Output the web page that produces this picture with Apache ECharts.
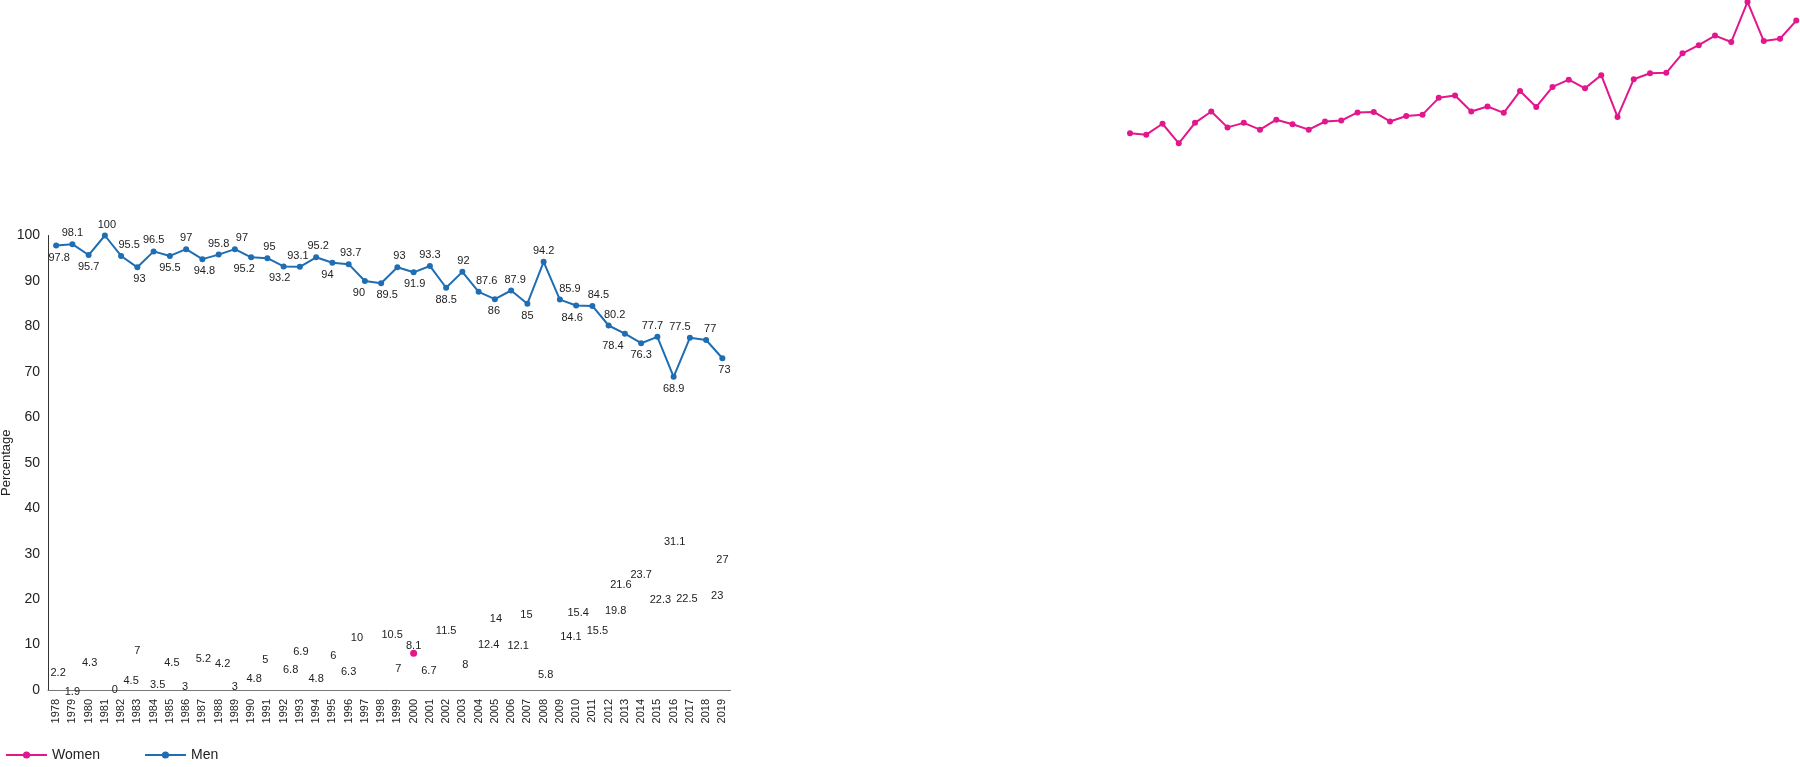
<!DOCTYPE html>
<html>
<head>
<meta charset="utf-8">
<title>Percentage by sex</title>
<script src="https://cdn.jsdelivr.net/npm/echarts@6/dist/echarts.min.js"></script>
<style>
    html, body { margin: 0; padding: 0; background: #fff; }
    #chart { width: 1800px; height: 767px; }
</style>
</head>
<body>
<div id="chart"></div>
<script>
var years = ['1978', '1979', '1980', '1981', '1982', '1983', '1984', '1985', '1986', '1987',
    '1988', '1989', '1990', '1991', '1992', '1993', '1994', '1995', '1996', '1997',
    '1998', '1999', '2000', '2001', '2002', '2003', '2004', '2005', '2006', '2007',
    '2008', '2009', '2010', '2011', '2012', '2013', '2014', '2015', '2016', '2017',
    '2018', '2019'];
var women = [2.2, 1.9, 4.3, 0, 4.5, 7, 3.5, 4.5, 3, 5.2,
    4.2, 3, 4.8, 5, 6.8, 6.9, 4.8, 6, 6.3, 10,
    10.5, 7, 8.1, 6.7, 11.5, 8, 12.4, 14, 12.1, 15,
    5.8, 14.1, 15.4, 15.5, 19.8, 21.6, 23.7, 22.3, 31.1, 22.5,
    23, 27];
var men = [97.8, 98.1, 95.7, 100, 95.5, 93, 96.5, 95.5, 97, 94.8,
    95.8, 97, 95.2, 95, 93.2, 93.1, 95.2, 94, 93.7, 90,
    89.5, 93, 91.9, 93.3, 88.5, 92, 87.6, 86, 87.9, 85,
    94.2, 85.9, 84.6, 84.5, 80.2, 78.4, 76.3, 77.7, 68.9, 77.5,
    77, 73];

// label placement: t = above, b = below, c = on the point
var menLabelPos = ['b', 't', 'b', 't', 't', 'b', 't', 'b', 't', 'b',
    't', 't', 'b', 't', 'b', 't', 't', 'b', 't', 'b',
    'b', 't', 'b', 't', 'b', 't', 't', 'b', 't', 'b',
    't', 't', 'b', 't', 't', 'b', 'b', 't', 'b', 't',
    't', 'b'];
var menLabelDx = [3, 0, 0, 2, 8, 2, 0, 0, 0, 2,
    0, 7, -7, 2, -4, -2, 2, -5, 2, -6,
    6, 2, 1, 0, 0, 1, 8, -1, 4, 0,
    0, 10, -4, 6, 6, -12, 0, -5, 0, -10,
    4, 2];
var womenLabelPos = ['t', 'b', 't', 'c', 'b', 't', 'b', 't', 'b', 't',
    't', 'b', 'b', 't', 'b', 't', 'b', 't', 'b', 't',
    't', 'b', 't', 'b', 't', 'b', 'b', 't', 'b', 't',
    'b', 'b', 't', 'b', 'b', 't', 't', 'b', 't', 'b',
    'b', 't'];
var womenLabelDx = [2, 0, 1, 10, 10, 0, 4, 2, -1, 1,
    4, 0, 3, -2, 7, 1, 0, 1, 0, -8,
    11, 1, 0, -1, 0, 3, 10, 1, 7, -1,
    2, 11, 2, 5, 7, -4, 0, 3, 1, -3,
    11, 0];
var womenDotYear = '2000';

var PINK = '#e3168c';
var BLUE = '#1f6db3';
var FONT = '"Liberation Sans", Arial, sans-serif';

function withLabels(values, pos, dx, up, down) {
    return values.map(function (v, i) {
        var dy = pos[i] === 't' ? up : (pos[i] === 'b' ? down : 0);
        return { value: v, label: { offset: [dx[i], dy] } };
    });
}

var chart = echarts.init(document.getElementById('chart'));

var gridW = 682.5, gridH = 454.5;

var option = {
    animation: false,
    textStyle: { fontFamily: FONT },
    legend: {
        data: ['Women', 'Men'],
        left: 5,
        top: 748,
        padding: 0,
        itemWidth: 41,
        itemHeight: 9,
        itemGap: 44,
        textStyle: { fontSize: 14, color: '#222', fontFamily: FONT }
    },
    grid: [
        { left: 48, top: 235.5, width: gridW, height: gridH, outerBoundsMode: 'none' },
        // the women line is drawn shifted up and to the right
        { left: 1121.9, top: -311.2, width: gridW, height: gridH, outerBoundsMode: 'none' }
    ],
    xAxis: [{
        type: 'category',
        gridIndex: 0,
        data: years,
        boundaryGap: true,
        axisLine: { lineStyle: { color: '#777', width: 1 } },
        axisTick: { show: false },
        axisLabel: { interval: 0, rotate: 90, fontSize: 11, color: '#222', margin: 9, fontFamily: FONT }
    }, {
        type: 'category',
        gridIndex: 1,
        data: years,
        boundaryGap: true,
        show: false
    }],
    yAxis: [{
        type: 'value',
        gridIndex: 0,
        min: 0,
        max: 100,
        interval: 10,
        name: 'Percentage',
        nameLocation: 'middle',
        nameGap: 33,
        nameTextStyle: { fontSize: 13, color: '#222', fontFamily: FONT },
        axisLine: { show: true, lineStyle: { color: '#333', width: 1 } },
        axisTick: { show: false },
        splitLine: { show: false },
        axisLabel: { fontSize: 14, color: '#222', margin: 8, fontFamily: FONT }
    }, {
        type: 'value',
        gridIndex: 1,
        min: 0,
        max: 100,
        show: false
    }],
    series: [{
        name: 'Women',
        type: 'line',
        xAxisIndex: 1,
        yAxisIndex: 1,
        data: women,
        clip: false,
        symbol: 'circle',
        symbolSize: 6,
        showAllSymbol: true,
        itemStyle: { color: PINK },
        lineStyle: { color: PINK, width: 2 }
    }, {
        name: 'Women',
        type: 'line',
        xAxisIndex: 0,
        yAxisIndex: 0,
        data: withLabels(women, womenLabelPos, womenLabelDx, -7, 11),
        symbol: 'circle',
        symbolSize: function (val, params) {
            return years[params.dataIndex] === womenDotYear ? 7 : 0;
        },
        showAllSymbol: true,
        itemStyle: { color: PINK },
        lineStyle: { width: 0, opacity: 0 },
        label: { show: true, position: 'inside', fontSize: 11, color: '#222', fontFamily: FONT }
    }, {
        name: 'Men',
        type: 'line',
        xAxisIndex: 0,
        yAxisIndex: 0,
        data: withLabels(men, menLabelPos, menLabelDx, -11, 12),
        symbol: 'circle',
        symbolSize: 6,
        showAllSymbol: true,
        itemStyle: { color: BLUE },
        lineStyle: { color: BLUE, width: 2 },
        label: { show: true, position: 'inside', fontSize: 11, color: '#222', fontFamily: FONT }
    }]
};

chart.setOption(option);
</script>
</body>
</html>
